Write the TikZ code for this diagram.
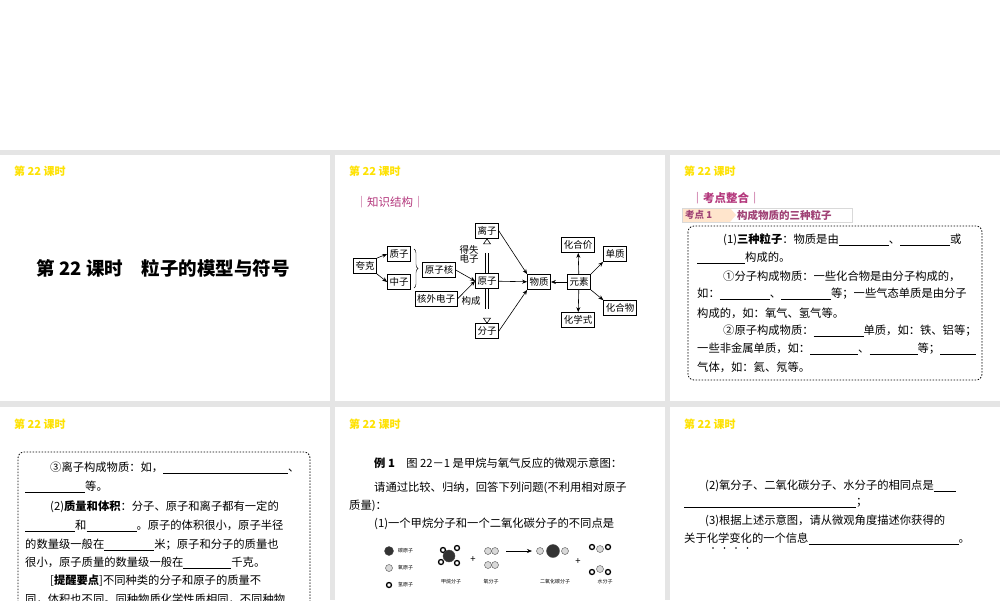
\documentclass[tikz,border=0pt]{standalone}
\usepackage{fontspec}
\setmainfont{Noto Sans CJK SC}
\usetikzlibrary{arrows.meta,decorations.pathreplacing}
\newcommand{\bl}[1]{\underline{\hspace{#1pt}}}
\tikzset{
 hdr/.style={anchor=west,text=yellow!85!orange,font=\fontsize{11}{12}\selectfont\bfseries,inner sep=0},
 bx/.style={draw,thick,font=\fontsize{9.5}{10}\selectfont,inner sep=2pt,minimum height=15pt},
 ln/.style={anchor=west,inner sep=0,font=\fontsize{11.3}{12}\selectfont},
 lb/.style={font=\fontsize{9.5}{10}\selectfont,inner sep=0,align=center},
 ar/.style={-{Stealth[length=5pt,width=4pt]},semithick},
 dbox/.style={draw,thick,dash pattern=on 1.5pt off 1.5pt,rounded corners=6pt},
 mol/.style={circle,draw=black!70,inner sep=0,minimum size=#1},
}
\begin{document}
\begin{tikzpicture}[x=1pt,y=-1pt]
\useasboundingbox (0,0) rectangle (1000,600);
\begin{scope}
\clip (0,0) rectangle (1000,600);
\fill[black!10] (0,0) rectangle (1000,600);
\fill[white] (0,0) rectangle (1000,150);
\foreach \x in {0,335,670}{
 \fill[white] (\x,155) rectangle (\x+330,401);
 \fill[white] (\x,407) rectangle (\x+330,600);
 \node[hdr] at (\x+14,171) {第 22 课时};
 \node[hdr] at (\x+14,424) {第 22 课时};
}
% panel 1
\node[font=\fontsize{18.5}{19}\selectfont\bfseries] (title) at (163,268) {第 22 课时\quad 粒子的模型与符号};
% panel 2
\node[anchor=west,text=magenta!70!black,font=\fontsize{11.5}{12}\selectfont] (zs) at (352,202) {｜知识结构｜};
\node[bx] (qk) at (365,266) {夸克};
\node[bx] (zz) at (399,254) {质子};
\node[bx] (zhz) at (399,282) {中子};
\node[bx] (yzh) at (439,270) {原子核};
\node[bx] (hw) at (436,299) {核外电子};
\node[bx] (yz) at (487,281) {原子};
\node[bx] (lz) at (487,231) {离子};
\node[bx] (fz) at (487,331) {分子};
\node[bx] (wz) at (539,282) {物质};
\node[bx] (ys) at (579,282) {元素};
\node[bx] (hhj) at (578,245) {化合价};
\node[bx] (dz) at (615,254) {单质};
\node[bx] (hhw) at (620,308) {化合物};
\node[bx] (hxs) at (578,320) {化学式};
\node[lb] (ds) at (469,254) {得失\\[-1pt]电子};
\node[lb] (gc) at (471,301) {构成};
\draw[ar] (qk.north east) -- (zz.west);
\draw[ar] (qk.south east) -- (zhz.west);
\draw[decorate,decoration={brace,amplitude=4pt}] (414,249) -- (414,288);
\draw[ar] (yzh.east) -- (yz.west);
\draw[ar] (hw.east) -- (yz.west);
% open double arrows
\draw[semithick] ([xshift=-1.5pt]yz.north) -- ++(0,-20) ([xshift=1.5pt]yz.north) -- ++(0,-20);
\draw[semithick,fill=white] ([yshift=0pt]lz.south) -- ++(-3.5,5) -- ++(7,0) -- cycle;
\draw[semithick] ([xshift=-1.5pt]yz.south) -- ++(0,20) ([xshift=1.5pt]yz.south) -- ++(0,20);
\draw[semithick,fill=white] (fz.north) -- ++(-3.5,-5) -- ++(7,0) -- cycle;
\draw[ar] (yz) -- (wz);
\draw[ar] (lz.east) -- (wz.north west);
\draw[ar] (fz.east) -- (wz.south west);
\draw[ar] (ys) -- (wz);
\draw[ar] (ys) -- (hhj);
\draw[ar] (ys) -- (hxs);
\draw[ar] (ys.north east) -- (dz.south west);
\draw[ar] (ys.south east) -- (hhw.north west);
% panel 3
\node[anchor=west,text=magenta!70!black,font=\fontsize{11.5}{12}\selectfont\bfseries] (kd) at (688,198) {｜考点整合｜};
\fill[orange!20] (682,208) -- (730,208) -- (736,215) -- (730,222) -- (682,222) -- cycle;
\draw[black!15] (682,208) rectangle (852,222);
\node[anchor=west,inner sep=0,text=magenta!60!black,font=\fontsize{9.5}{10}\selectfont\bfseries] (k1) at (685,215) {考点 1};
\node[anchor=west,inner sep=0,text=magenta!60!black,font=\fontsize{10.5}{10}\selectfont\bfseries] (k1t) at (737,215) {构成物质的三种粒子};
\draw[dbox] (688,226) rectangle (982,380);
\node[ln] (a1) at (723,240) {(1)\textbf{三种粒子}：物质是由\bl{50}、\bl{50}或};
\node[ln] (a2) at (697,258) {\bl{48}构成的。};
\node[ln] (a3) at (723,276) {①分子构成物质：一些化合物是由分子构成的，};
\node[ln] (a4) at (697,294) {如：\bl{50}、\bl{50}等；一些气态单质是由分子};
\node[ln] (a5) at (697,313) {构成的，如：氧气、氢气等。};
\node[ln] (a6) at (723,331) {②原子构成物质：\bl{50}单质，如：铁、铝等；};
\node[ln] (a7) at (697,349) {一些非金属单质，如：\bl{48}、\bl{48}等；\bl{36}};
\node[ln] (a8) at (697,367) {气体，如：氦、氖等。};
% panel 4
\draw[dbox] (18,620) -- (18,452) -- (310,452) -- (310,620);
\node[ln] (b1) at (50,468) {③离子构成物质：如，\bl{125}、};
\node[ln] (b2) at (25,487) {\bl{60}等。};
\node[ln] (b3) at (50,507) {(2)\textbf{质量和体积}：分子、原子和离子都有一定的};
\node[ln] (b4) at (25,526) {\bl{50}和\bl{50}。原子的体积很小，原子半径};
\node[ln] (b5) at (25,545) {的数量级一般在\bl{50}米；原子和分子的质量也};
\node[ln] (b6) at (25,563) {很小，原子质量的数量级一般在\bl{48}千克。};
\node[ln] (b7) at (50,581) {[\textbf{提醒要点}]不同种类的分子和原子的质量不};
\node[ln] (b8) at (25,599) {同，体积也不同。同种物质化学性质相同，不同种物};
% panel 5
\node[ln] (c1) at (374,463) {\textbf{例 1}\quad 图 22－1 是甲烷与氧气反应的微观示意图：};
\node[ln] (c2) at (374,488) {请通过比较、归纳，回答下列问题(不利用相对原子};
\node[ln] (c3) at (349,506) {质量)：};
\node[ln] (c4) at (374,524) {(1)一个甲烷分子和一个二氧化碳分子的不同点是};
\tikzset{cat/.style={mol=9pt,fill=black!80},oat/.style={mol=7pt,fill=black!15},hat/.style={mol=5pt,draw=black,line width=1.3pt,fill=white},tl/.style={font=\fontsize{5}{5}\selectfont,inner sep=0}}
\node[cat] (lc) at (389,551) {}; \node[tl,anchor=west] (lct) at (398,551) {碳原子};
\node[oat] (lo) at (389,568) {}; \node[tl,anchor=west] (lot) at (398,568) {氧原子};
\node[hat] (lh) at (389,585) {}; \node[tl,anchor=west] (lht) at (398,585) {氢原子};
\node[hat] (h1) at (443,550) {}; \node[hat] (h2) at (457,548) {}; \node[hat] (h3) at (441,562) {}; \node[hat] (h4) at (457,563) {};
\node[cat,minimum size=12pt] (mc) at (449,556) {};
\node[lb] (p1) at (473,560) {+};
\node[oat] (o1) at (488,551) {}; \node[oat] (o2) at (495,551) {};
\node[oat] (o3) at (488,565) {}; \node[oat] (o4) at (495,565) {};
\coordinate (ra) at (506,551); \coordinate (rb) at (532,551);
\draw[ar] (ra) -- (rb);
\node[oat] (co1) at (540,551) {}; \node[oat] (co2) at (565,551) {};
\node[cat,minimum size=13pt] (cc) at (553,551) {};
\node[lb] (p2) at (578,562) {+};
\node[hat] (w1) at (592,547) {}; \node[hat] (w2) at (608,547) {}; \node[oat] (w3) at (600,549) {};
\node[hat] (w4) at (592,572) {}; \node[hat] (w5) at (608,572) {}; \node[oat] (w6) at (600,569) {};
\node[tl] (t1) at (451,582) {甲烷分子};
\node[tl] (t2) at (491,582) {氧分子};
\node[tl] (t3) at (555,582) {二氧化碳分子};
\node[tl] (t4) at (605,582) {水分子};
% panel 6
\node[ln] (d1) at (705,486) {(2)氧分子、二氧化碳分子、水分子的相同点是\bl{22}};
\node[ln] (d2) at (684,503) {\bl{172}；};
\node[ln] (d3) at (705,521) {(3)根据上述示意图，请从微观角度描述你获得的};
\node[ln] (d4) at (684,539) {关于化学变化的一个信息\bl{150}。};
\foreach \x in {0,1,2,3}{\fill (713+\x*11.5,548) circle (0.9);}
\end{scope}
\end{tikzpicture}
\end{document}
